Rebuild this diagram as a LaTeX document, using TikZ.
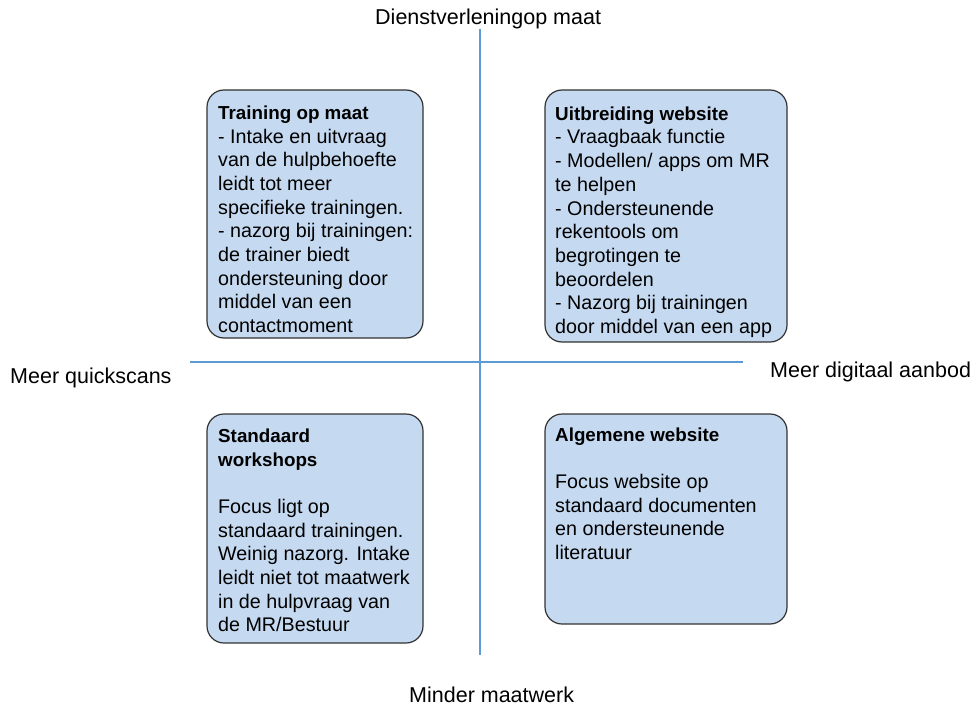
\documentclass[tikz,border=0pt]{standalone}
\usepackage{fontspec}
\setmainfont{Liberation Sans}
\definecolor{axisblue}{RGB}{91,155,213}
\definecolor{boxfill}{RGB}{197,217,240}
\definecolor{boxline}{RGB}{50,50,50}
\newcommand{\hd}[1]{{\bfseries\fontsize{18.8}{23.7}\selectfont #1}}
\begin{document}
\begin{tikzpicture}[x=1pt,y=-1pt,
  quadbox/.style={draw=boxline,fill=boxfill,line width=1.2pt,rounded corners=17pt},
  boxtext/.style={anchor=base west,inner sep=0pt,align=left,font=\fontsize{19.7}{23.7}\selectfont},
  axislabel/.style={inner sep=0pt,font=\fontsize{21.5}{26}\selectfont},
  axisline/.style={draw=axisblue,line width=2pt}]
\useasboundingbox (0,0) rectangle (979,706);
% axes
\coordinate (vt) at (480,29);
\coordinate (vb) at (480,655);
\coordinate (hl) at (190,362);
\coordinate (hr) at (743,362);
\draw[axisline] (vt) -- (vb);
\draw[axisline] (hl) -- (hr);
% boxes
\path[quadbox] (207,90) rectangle (423,338);
\path[quadbox] (545,90) rectangle (787,342);
\path[quadbox] (207,414) rectangle (423,643);
\path[quadbox] (545,414) rectangle (787,624);
% box texts (anchored at the baseline of the last line)
\node[boxtext] (t1) at (218,332.6) {\hd{Training op maat}\\- Intake en uitvraag\\van de hulpbehoefte\\leidt tot meer\\specifieke trainingen.\\- nazorg bij trainingen:\\de trainer biedt\\ondersteuning door\\middel van een\\contactmoment};
\node[boxtext] (t2) at (555,333.5) {\hd{Uitbreiding website}\\- Vraagbaak functie\\- Modellen/ apps om MR\\te helpen\\- Ondersteunende\\rekentools om\\begrotingen te\\beoordelen\\- Nazorg bij trainingen\\door middel van een app};
\node[boxtext] (t3) at (218,631.9) {\hd{Standaard}\\\hd{workshops}\\[23.7pt]Focus ligt op\\standaard trainingen.\\Weinig nazorg. Intake\\leidt niet tot maatwerk\\in de hulpvraag van\\de MR/Bestuur};
\node[boxtext] (t4) at (555,559.5) {\hd{Algemene website}\\[23.7pt]Focus website op\\standaard documenten\\en ondersteunende\\literatuur};
% axis labels
\node[axislabel,anchor=base west] (top) at (375,25) {Dienstverleningop maat};
\node[axislabel,anchor=base west] (left) at (10,383) {Meer quickscans};
\node[axislabel,anchor=base west] (right) at (770,377) {Meer digitaal aanbod};
\node[axislabel,anchor=base west] (bottom) at (409,702) {Minder maatwerk};
\end{tikzpicture}
\end{document}
